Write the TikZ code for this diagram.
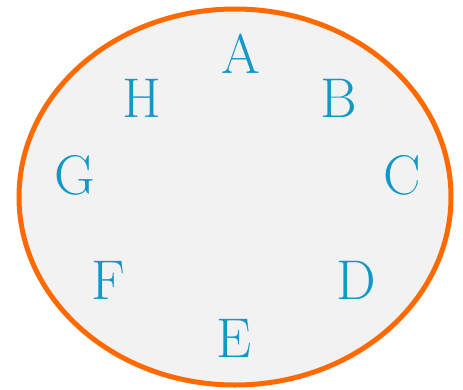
\documentclass[tikz,border=0pt]{standalone}
\usetikzlibrary{shapes.geometric}
\definecolor{ringorange}{RGB}{255,106,0}
\definecolor{fillgray}{RGB}{242,242,242}
\definecolor{lettercyan}{RGB}{18,152,198}
\begin{document}
\begin{tikzpicture}[x=1pt,y=-1pt,
  letter/.style={anchor=base,inner sep=0pt,text=lettercyan,font=\fontsize{56}{56}\selectfont}]
\useasboundingbox[fill=white] (0,0) rectangle (463,389);
\node[draw=ringorange,fill=fillgray,line width=5pt,ellipse,minimum width=432pt,minimum height=376pt,inner sep=0pt] (ring) at (235,197) {};
\node[letter] (A) at (241,73) {A};
\node[letter] (B) at (339,117) {B};
\node[letter] (C) at (402,194) {C};
\node[letter] (D) at (356,299) {D};
\node[letter] (E) at (234,357) {E};
\node[letter] (F) at (108,299) {F};
\node[letter] (G) at (75,194) {G};
\node[letter] (H) at (142,117) {H};
\end{tikzpicture}
\end{document}
